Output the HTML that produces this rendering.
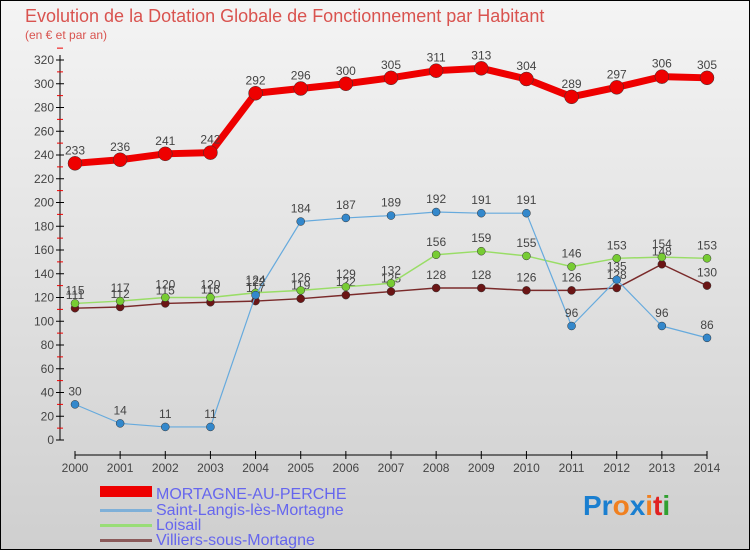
<!DOCTYPE html>
<html><head><meta charset="utf-8"><style>
body{margin:0;width:750px;height:550px;overflow:hidden;font-family:"Liberation Sans",sans-serif}
</style></head><body>
<svg width="750" height="550" xmlns="http://www.w3.org/2000/svg" id="chart">
<defs><linearGradient id="bg" x1="0" y1="0" x2="0" y2="1"><stop offset="0" stop-color="#f4f4f4"/><stop offset="1" stop-color="#cfcfcf"/></linearGradient></defs>
<rect x="0.5" y="0.5" width="749" height="549" fill="url(#bg)" stroke="#000"/>
<text x="25" y="22" font-size="18" fill="#d9534f">Evolution de la Dotation Globale de Fonctionnement par Habitant</text>
<text x="25" y="39" font-size="12" fill="#d9534f">(en € et par an)</text>
<g id="axes"></g><g id="series"></g>
<g font-size="16" fill="#6666ee">
<rect x="100" y="486" width="52" height="11" fill="#e00"/>
<text x="156" y="499">MORTAGNE-AU-PERCHE</text>
<rect x="100" y="509" width="52" height="3" fill="#7fb0d8"/>
<text x="156" y="515">Saint-Langis-lès-Mortagne</text>
<rect x="100" y="524" width="52" height="3" fill="#99dd77"/>
<text x="156" y="530">Loisail</text>
<rect x="100" y="539" width="52" height="3" fill="#8b5a5a"/>
<text x="156" y="545">Villiers-sous-Mortagne</text>
</g>
<g font-size="28" font-weight="bold">
<text x="583" y="515"><tspan fill="#1a7fd0">Pr</tspan><tspan fill="#f08020">o</tspan><tspan fill="#1a7fd0">x</tspan><tspan fill="#f08020">i</tspan><tspan fill="#e02020">t</tspan><tspan fill="#30a030">i</tspan></text>
</g>
</svg>
<script>
const years=[2000,2001,2002,2003,2004,2005,2006,2007,2008,2009,2010,2011,2012,2013,2014];
const mortagne=[233,236,241,242,292,296,300,305,311,313,304,289,297,306,305];
const saintLangis=[30,14,11,11,122,184,187,189,192,191,191,96,135,96,86];
const loisail=[115,117,120,120,124,126,129,132,156,159,155,146,153,154,153];
const villiers=[111,112,115,116,117,119,122,125,128,128,126,126,128,148,130];
const yTicks=[0,20,40,60,80,100,120,140,160,180,200,220,240,260,280,300,320];
const NS="http://www.w3.org/2000/svg";
const xs=i=>75+i*(632/14);
const ys=v=>440-v*380/320;
function mk(tag,attrs,parent){const e=document.createElementNS(NS,tag);for(const k in attrs)e.setAttribute(k,attrs[k]);parent.appendChild(e);return e;}
const ax=document.getElementById('axes'),sr=document.getElementById('series');
let l=mk('line',{x1:60,y1:55,x2:60,y2:440,stroke:'#000'},ax);


yTicks.forEach(v=>{
  mk('line',{x1:56,x2:64,y1:ys(v),y2:ys(v),stroke:'#000'},ax);
  mk('line',{x1:57,x2:63,y1:ys(v+10),y2:ys(v+10),stroke:'#e00'},ax);
  const t=mk('text',{x:54,y:ys(v)+4,'font-size':12,fill:'#444','text-anchor':'end'},ax);t.textContent=v;
  
  
});
l=mk('line',{x1:75,y1:455,x2:707,y2:455,stroke:'#000'},ax);


years.forEach((y,i)=>{
  mk('line',{x1:xs(i),x2:xs(i),y1:451,y2:459,stroke:'#000'},ax);
  const t=mk('text',{x:xs(i),y:472,'font-size':12,fill:'#444','text-anchor':'middle'},ax);t.textContent=y;
  
  
});
function series(data,color,dot,w,r,name){
  const g=mk('g',{},sr);
  
  
  mk('polyline',{points:data.map((v,i)=>xs(i)+','+ys(v)).join(' '),fill:'none',stroke:color,'stroke-width':w,'stroke-linejoin':'round'},g);
  data.forEach((v,i)=>{
    const c=mk('circle',{cx:xs(i),cy:ys(v),r:r,fill:dot,stroke:'#333','stroke-width':0.5},g);
    
    
    const t=mk('text',{x:xs(i),y:ys(v)-9,'font-size':12,fill:'#444','text-anchor':'middle'},g);t.textContent=v;
    
    
  });
}
series(villiers,'#7a2a2a','#6b1515',1.5,4,'villiers');
series(loisail,'#99dd66','#77cc33',1.5,4,'loisail');
series(saintLangis,'#66aadd','#3388cc',1.2,4,'saint-langis');
series(mortagne,'#ee0000','#ee0000',7,7,'mortagne');
</script>
</body></html>
